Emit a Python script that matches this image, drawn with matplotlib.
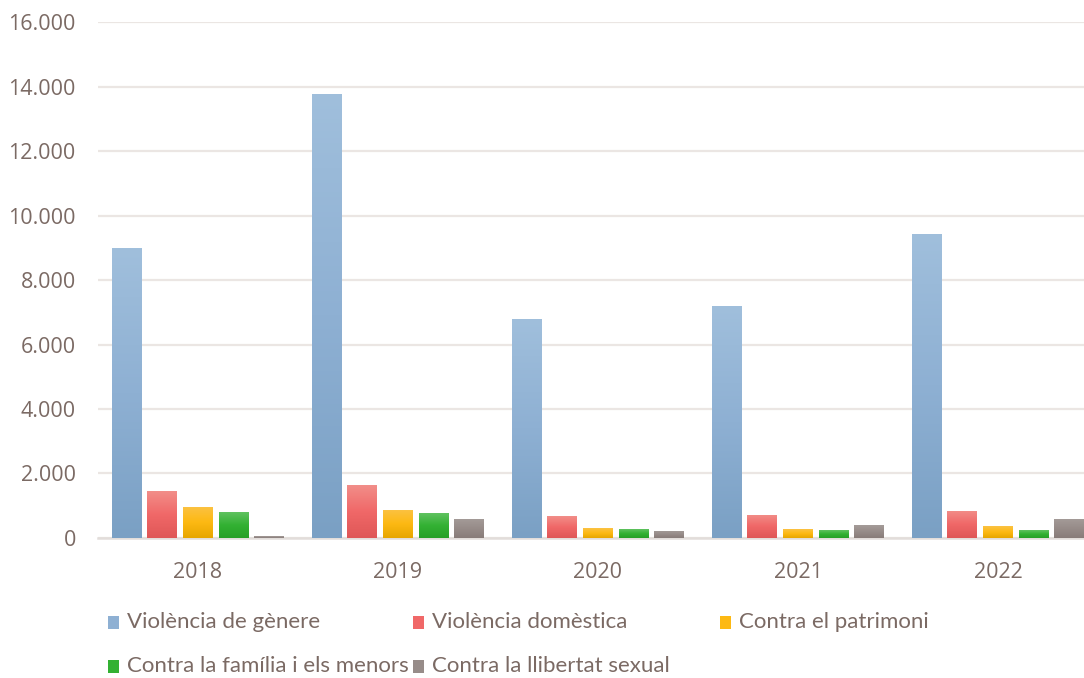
import numpy as np
import matplotlib.pyplot as plt
from matplotlib.colors import LinearSegmentedColormap
from matplotlib.patches import Rectangle

plt.rcParams['font.family'] = ['Open Sans', 'DejaVu Sans']

years = ['2018', '2019', '2020', '2021', '2022']
series = ['Violència de gènere', 'Violència domèstica', 'Contra el patrimoni',
          'Contra la família i els menors', 'Contra la llibertat sexual']
genere = [8990, 13780, 6780, 7180, 9430]
domestica = [1450, 1630, 670, 720, 850]
patrimoni = [970, 880, 300, 270, 360]
familia = [800, 760, 270, 240, 240]
sexual = [50, 600, 230, 390, 600]
values = [genere, domestica, patrimoni, familia, sexual]

# gradient stops top -> bottom
grads = [['#a0bfdc', '#8eb0d3', '#7aa0c4'],
         ['#f28e89', '#f06868', '#df5757'],
         ['#fbc244', '#fdb913', '#e7a600'],
         ['#60c260', '#33b133', '#27a027'],
         ['#a59c99', '#978c89', '#887c79']]
txt = '#7b6a64'

fig = plt.figure(figsize=(10.84, 6.78), dpi=100)
ax = fig.add_axes([0.0904, 0.2065, 0.9225, 0.761])

x = np.arange(len(years))
slot = 0.178
w = 0.15
for i, vals in enumerate(values):
    bars = ax.bar(x + (i - 2) * slot, vals, width=w, color='none', zorder=3)
    cmap = LinearSegmentedColormap.from_list('g%d' % i, grads[i][::-1])
    grad = np.linspace(0, 1, 256).reshape(-1, 1)
    for b in bars:
        x0, h = b.get_x(), b.get_height()
        im = ax.imshow(grad, cmap=cmap, origin='lower', aspect='auto',
                       extent=(x0, x0 + b.get_width(), 0, h), zorder=3)
        im.set_clip_path(b)

ax.set_xlim(-0.5, 4.5)
ax.set_ylim(0, 16000)
ax.set_yticks(np.arange(0, 16001, 2000))
ax.set_yticklabels(['0' if v == 0 else '{:,}'.format(v).replace(',', '.')
                    for v in range(0, 16001, 2000)])
ax.set_xticks(x)
ax.set_xticklabels(years)
ax.grid(axis='y', color='#ebe6e3', linewidth=1.6, zorder=0)
ax.set_axisbelow(True)
for s in ['top', 'right', 'left']:
    ax.spines[s].set_visible(False)
ax.spines['bottom'].set_color('#e2ddda')
ax.spines['bottom'].set_linewidth(1.8)
ax.tick_params(axis='both', length=0, colors=txt, labelsize=15.5)
ax.tick_params(axis='y', pad=16)
ax.tick_params(axis='x', pad=17)

# legend
pos = [(108, 622), (413, 622), (720, 622), (108, 666), (413, 666)]
W, H = 1084, 678
for i, name in enumerate(series):
    px, py = pos[i]
    fig.patches.append(Rectangle((px / W, 1 - (py + 7) / H), 11 / W, 13 / H,
                                 transform=fig.transFigure, figure=fig,
                                 facecolor=grads[i][1], edgecolor='none'))
    fig.text((px + 19) / W, 1 - py / H, name, color=txt, fontsize=16,
             family=['Lato', 'DejaVu Sans'], va='center', ha='left')

fig.savefig('out.png', dpi=100)
